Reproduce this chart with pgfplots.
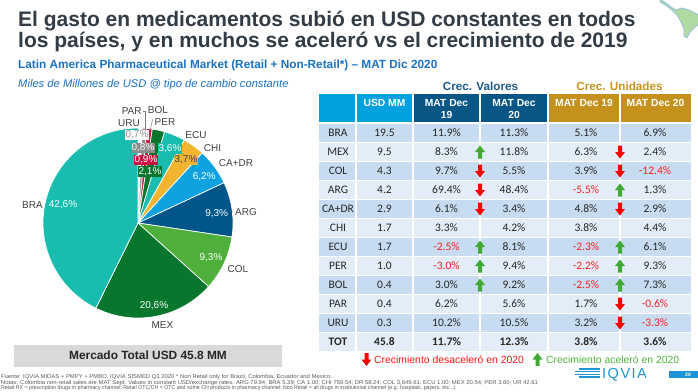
\documentclass[border=0pt]{standalone}
\usepackage{fontspec}
\setmainfont{Liberation Sans}
\newfontfamily\calibri{Carlito}
\usepackage{graphicx}
\usepackage{pgfplots}
\pgfplotsset{compat=1.18}
\definecolor{cteal}{RGB}{24,189,176}
\definecolor{cdgreen}{RGB}{8,118,44}
\definecolor{cgreen}{RGB}{78,176,58}
\definecolor{cdblue}{RGB}{0,86,138}
\definecolor{clblue}{RGB}{14,163,224}
\definecolor{cyellow}{RGB}{243,180,48}
\definecolor{ccrimson}{RGB}{205,18,66}
\definecolor{cgray}{RGB}{140,140,140}
\definecolor{titlec}{RGB}{50,60,70}
\definecolor{subblue}{RGB}{28,114,196}
\definecolor{valblue}{RGB}{30,90,136}
\definecolor{gold}{RGB}{200,148,30}
\definecolor{hdrlb}{RGB}{0,161,223}
\definecolor{hdrdb}{RGB}{8,86,134}
\definecolor{hdrgold}{RGB}{196,146,28}
\definecolor{rowdark}{RGB}{199,220,241}
\definecolor{rowlight}{RGB}{227,237,248}
\definecolor{tabtxt}{RGB}{38,38,38}
\definecolor{negred}{RGB}{250,30,30}
\definecolor{cup}{RGB}{64,170,52}
\definecolor{cdown}{RGB}{250,0,0}
\definecolor{legred}{RGB}{250,20,20}
\definecolor{leggreen}{RGB}{80,180,60}
\definecolor{labgray}{RGB}{64,64,64}
\definecolor{boxgray}{RGB}{217,217,217}
\definecolor{iqblue}{RGB}{30,148,214}
\definecolor{foot}{RGB}{90,90,90}

\pgfdeclareplotmark{uparr}{%
 \pgfpathmoveto{\pgfqpoint{-2pt}{-6.5pt}}%
 \pgfpathlineto{\pgfqpoint{2pt}{-6.5pt}}%
 \pgfpathlineto{\pgfqpoint{2pt}{0pt}}%
 \pgfpathlineto{\pgfqpoint{5pt}{0pt}}%
 \pgfpathlineto{\pgfqpoint{0pt}{6.5pt}}%
 \pgfpathlineto{\pgfqpoint{-5pt}{0pt}}%
 \pgfpathlineto{\pgfqpoint{-2pt}{0pt}}%
 \pgfpathclose\pgfusepathqfill}
\pgfdeclareplotmark{downarr}{%
 \pgfpathmoveto{\pgfqpoint{-2pt}{6.5pt}}%
 \pgfpathlineto{\pgfqpoint{2pt}{6.5pt}}%
 \pgfpathlineto{\pgfqpoint{2pt}{0pt}}%
 \pgfpathlineto{\pgfqpoint{5pt}{0pt}}%
 \pgfpathlineto{\pgfqpoint{0pt}{-6.5pt}}%
 \pgfpathlineto{\pgfqpoint{-5pt}{0pt}}%
 \pgfpathlineto{\pgfqpoint{-2pt}{0pt}}%
 \pgfpathclose\pgfusepathqfill}

% pie slice: cumulative start %, cumulative end %, colour (total 99.8 %)
\newcommand\slice[3]{%
  \addplot[fill=#3, draw=white, line width=0.7pt, domain=90-3.60721*#2:90-3.60721*#1, samples=60]
    ({138+95*cos(x)},{223-95*sin(x)}) -- (axis cs:138,223) -- cycle;}

\newcommand\negv[1]{\textcolor{negred}{#1}}
\newcommand\trow[7]{%
  \node[tb] at (338,#1) {#2};
  \node[tb] at (384.5,#1) {#3};
  \node[tb] at (446.5,#1) {#4};
  \node[tb] at (514,#1) {#5};
  \node[tb] at (586,#1) {#6};
  \node[tb] at (655,#1) {#7};}

\begin{document}
\begin{tikzpicture}
\useasboundingbox (0,0) rectangle (698pt,391pt);
\fill[white] (0,0) rectangle (698pt,391pt);

% ---------- backgrounds (image coordinates, y down)
\begin{scope}[x=1pt,y=-1pt,shift={(0,391pt)}]
  \fill[hdrlb] (319,94) rectangle (413,122);
  \fill[hdrdb] (413,94) rectangle (548,122);
  \fill[hdrgold] (548,94) rectangle (691,122);
  \foreach \i in {0,2,...,10} \fill[rowdark] (319,{123.5+19*\i}) rectangle (691,{142.5+19*\i});
  \foreach \i in {1,3,...,11} \fill[rowlight] (319,{123.5+19*\i}) rectangle (691,{142.5+19*\i});
  \foreach \i in {0,...,12} \draw[white, line width=1.3pt] (319,{123.5+19*\i}) -- (691,{123.5+19*\i});
  \foreach \x in {356,413,480,548,620} \draw[white, line width=1.3pt] (\x,94) -- (\x,352);
  \fill[boxgray] (14,344.5) rectangle (282,366.5);
  \fill[iqblue] (669,371) rectangle (698,377.5);
  % map decoration
  \filldraw[fill={rgb,255:red,176;green,218;blue,160}, draw={rgb,255:red,150;green,190;blue,230}, line width=0.8pt]
    (660,-1) -- (666,3) -- (671,7) -- (676,10) -- (682,8) -- (689,10) -- (695,13) -- (699,15) -- (699,24)
    -- (694,28) -- (690,32) -- (687,38) -- (684,36) -- (684,29) -- (681,22) -- (677,15) -- (673,11) -- (667,6) -- (660,2) -- cycle;
\end{scope}

% ---------- pie and arrow marks through pgfplots
\begin{axis}[at={(0,0)}, anchor=south west, width=698pt, height=391pt, scale only axis,
  xmin=0, xmax=698, ymin=0, ymax=391, y dir=reverse, hide axis, clip=false]
  \slice{0}{0.7}{white}       % URU 0.7
  \slice{0.7}{1.5}{cgray}     % PAR 0.8
  \slice{1.5}{2.4}{ccrimson}  % BOL 0.9
  \slice{2.4}{4.5}{cdgreen}   % PER 2.1
  \slice{4.5}{8.1}{cteal}     % ECU 3.6
  \slice{8.1}{11.8}{cyellow}  % CHI 3.7
  \slice{11.8}{18.0}{clblue}  % CA+DR 6.2
  \slice{18.0}{27.3}{cdblue}  % ARG 9.3
  \slice{27.3}{36.6}{cgreen}  % COL 9.3
  \slice{36.6}{57.2}{cdgreen} % MEX 20.6
  \slice{57.2}{99.8}{cteal}   % BRA 42.6
  \addplot[only marks, mark=uparr, color=cup] coordinates {
    (480,152) (480,247) (480,266) (480,285)
    (620,190) (620,247) (620,266) (620,285) (537.5,359.5)};
  \addplot[only marks, mark=downarr, color=cdown] coordinates {
    (480,171) (480,190) (480,209)
    (620,152) (620,171) (620,209) (620,304) (620,323) (366.5,359.5)};
\end{axis}

% ---------- texts
\begin{scope}[x=1pt,y=-1pt,shift={(0,391pt)},
   tb/.style={anchor=base, inner sep=0pt, font=\calibri\fontsize{11.5}{13}\selectfont, text=tabtxt},
   hd/.style={anchor=base, inner sep=0pt, font=\bfseries\fontsize{10.3}{12}\selectfont, text=white},
   pl/.style={inner sep=0pt, font=\fontsize{10}{12}\selectfont, text=labgray},
   pv/.style={inner sep=0pt, font=\fontsize{10}{12}\selectfont, text=white},
   bx/.style={inner xsep=1pt, inner ysep=0pt, minimum height=10.6pt, font=\fontsize{10}{12}\selectfont},
   ft/.style={anchor=base west, inner sep=0pt, font=\fontsize{5.6}{6}\selectfont, text=foot}]
  % titles
  \node[anchor=base west, inner sep=0pt, font=\bfseries\fontsize{21}{25}\selectfont, text=titlec] at (18,26.7)
    {El gasto en medicamentos subió en USD constantes en todos};
  \node[anchor=base west, inner sep=0pt, font=\bfseries\fontsize{21}{25}\selectfont, text=titlec] at (18,47.7)
    {los países, y en muchos se aceleró vs el crecimiento de 2019};
  \node[anchor=base west, inner sep=0pt, font=\bfseries\fontsize{11.8}{14}\selectfont, text=subblue] at (18,68.5)
    {Latin America Pharmaceutical Market (Retail + Non-Retail*) – MAT Dic 2020};
  \node[anchor=base west, inner sep=0pt, font=\itshape\fontsize{11.2}{13}\selectfont, text=subblue] at (18,87.5)
    {Miles de Millones de USD @ tipo de cambio constante};
  % table headings
  \node[anchor=base, inner sep=0pt, font=\bfseries\fontsize{11.7}{14}\selectfont, text=valblue] at (480.5,90.5) {Crec. Valores};
  \node[anchor=base, inner sep=0pt, font=\bfseries\fontsize{11.7}{14}\selectfont, text=gold] at (619.5,90.5) {Crec. Unidades};
  \node[hd] at (384.5,106.5) {USD MM};
  \node[hd] at (446.5,106.5) {MAT Dec};
  \node[hd] at (446.5,118.5) {19};
  \node[hd] at (514,106.5) {MAT Dec};
  \node[hd] at (514,118.5) {20};
  \node[hd] at (584,106.5) {MAT Dec 19};
  \node[hd] at (655.5,106.5) {MAT Dec 20};
  % table body
  \trow{136.8}{BRA}{19.5}{11.9\%}{11.3\%}{5.1\%}{6.9\%}
  \trow{155.8}{MEX}{9.5}{8.3\%}{11.8\%}{6.3\%}{2.4\%}
  \trow{174.8}{COL}{4.3}{9.7\%}{5.5\%}{3.9\%}{\negv{-12.4\%}}
  \trow{193.8}{ARG}{4.2}{69.4\%}{48.4\%}{\negv{-5.5\%}}{1.3\%}
  \trow{212.8}{CA+DR}{2.9}{6.1\%}{3.4\%}{4.8\%}{2.9\%}
  \trow{231.8}{CHI}{1.7}{3.3\%}{4.2\%}{3.8\%}{4.4\%}
  \trow{250.8}{ECU}{1.7}{\negv{-2.5\%}}{8.1\%}{\negv{-2.3\%}}{6.1\%}
  \trow{269.8}{PER}{1.0}{\negv{-3.0\%}}{9.4\%}{\negv{-2.2\%}}{9.3\%}
  \trow{288.8}{BOL}{0.4}{3.0\%}{9.2\%}{\negv{-2.5\%}}{7.3\%}
  \trow{307.8}{PAR}{0.4}{6.2\%}{5.6\%}{1.7\%}{\negv{-0.6\%}}
  \trow{326.8}{URU}{0.3}{10.2\%}{10.5\%}{3.2\%}{\negv{-3.3\%}}
  \trow{345.8}{\bfseries TOT}{\bfseries 45.8}{\bfseries 11.7\%}{\bfseries 12.3\%}{\bfseries 3.8\%}{\bfseries 3.6\%}
  % legend
  \node[anchor=west, inner sep=0pt, font=\fontsize{10.4}{12}\selectfont, text=legred] at (374,359.5) {Crecimiento desaceleró en 2020};
  \node[anchor=west, inner sep=0pt, font=\fontsize{10.4}{12}\selectfont, text=leggreen] at (546,359.5) {Crecimiento aceleró en 2020};
  % pie labels
  \node[pl, anchor=east] at (43,205) {BRA};
  \node[pl] at (162.5,325) {MEX};
  \node[pl] at (238,269.3) {COL};
  \node[pl] at (246,211.7) {ARG};
  \node[pl] at (236,163.5) {CA+DR};
  \node[pl] at (212.5,147.7) {CHI};
  \node[pl] at (196,135) {ECU};
  \node[pl] at (165,121.7) {PER};
  \node[pl] at (158,110) {BOL};
  \node[pl] at (131.7,111) {PAR};
  \node[pl] at (129,123.3) {URU};
  \draw[gray, line width=0.5pt] (143,111) -- (145.7,111) -- (145.7,131);
  \draw[gray, line width=0.5pt] (152.7,119.3) -- (150,130.5);
  \node[pv] at (63,205) {42,6\%};
  \node[pv] at (154,306) {20,6\%};
  \node[pv] at (211,258) {9,3\%};
  \node[pv] at (216.7,213.3) {9,3\%};
  \node[pv] at (204.3,176.7) {6,2\%};
  \node[bx, fill=white, text=cgray] at (137,135) {0,7\%};
  \node[bx, fill=cgray, text=white] at (143,148) {0,8\%};
  \node[bx, fill=ccrimson, text=white] at (146,160) {0,9\%};
  \node[bx, fill=cdgreen, text=white] at (150,171.3) {2,1\%};
  \node[bx, fill=cteal, text=white] at (170,148.3) {3,6\%};
  \node[bx, fill=cyellow, text=labgray] at (186,160) {3,7\%};
  % total box
  \node[inner sep=0pt, font=\bfseries\fontsize{11.9}{14}\selectfont, text=tabtxt] at (148,355.5) {Mercado Total USD 45.8 MM};
  % footnotes
  \node[ft] at (0.8,378.5) {\resizebox{331pt}{\height}{Fuente: IQVIA MIDAS + PMPY + PMBO, IQVIA SISMED Q3 2020 * Non Retail only  for Brazil, Colombia, Ecuador and Mexico.}};
  \node[ft] at (0.8,384) {\resizebox{537pt}{\height}{Notas: Colombia non-retail sales are MAT Sept. Values in constant USD/exchange rates. ARG 79.94; BRA 5.39; CA 1.00; CHI 759.54; DR 58.24; COL 3,649.61; ECU 1.00; MEX 20.54; PER 3.60; UR 42.61}};
  \node[ft] at (0.8,389.5) {\resizebox{456pt}{\height}{Retail RX = prescription drugs in pharmacy channel; Retail OTC/CH = OTC and some CH products in pharmacy channel; Non Retail = all drugs in institutional channel (e.g. hospitals, payers, etc...).}};
  % logo
  \foreach \yy/\xs in {369/579, 371.7/575, 374.4/575, 377.1/579} \draw[iqblue, line width=1.4pt] (\xs,\yy) -- (600,\yy);
  \node[anchor=base west, inner sep=0pt, font=\fontsize{14.5}{16}\selectfont, text=iqblue] at (602,378.5) {I\hspace{1.5pt}Q\hspace{1.5pt}V\hspace{1.5pt}I\hspace{1.5pt}A};
  \node[inner sep=0pt, font=\bfseries\fontsize{5}{6}\selectfont, text=white] at (688,374.3) {20};
\end{scope}
\end{tikzpicture}
\end{document}
